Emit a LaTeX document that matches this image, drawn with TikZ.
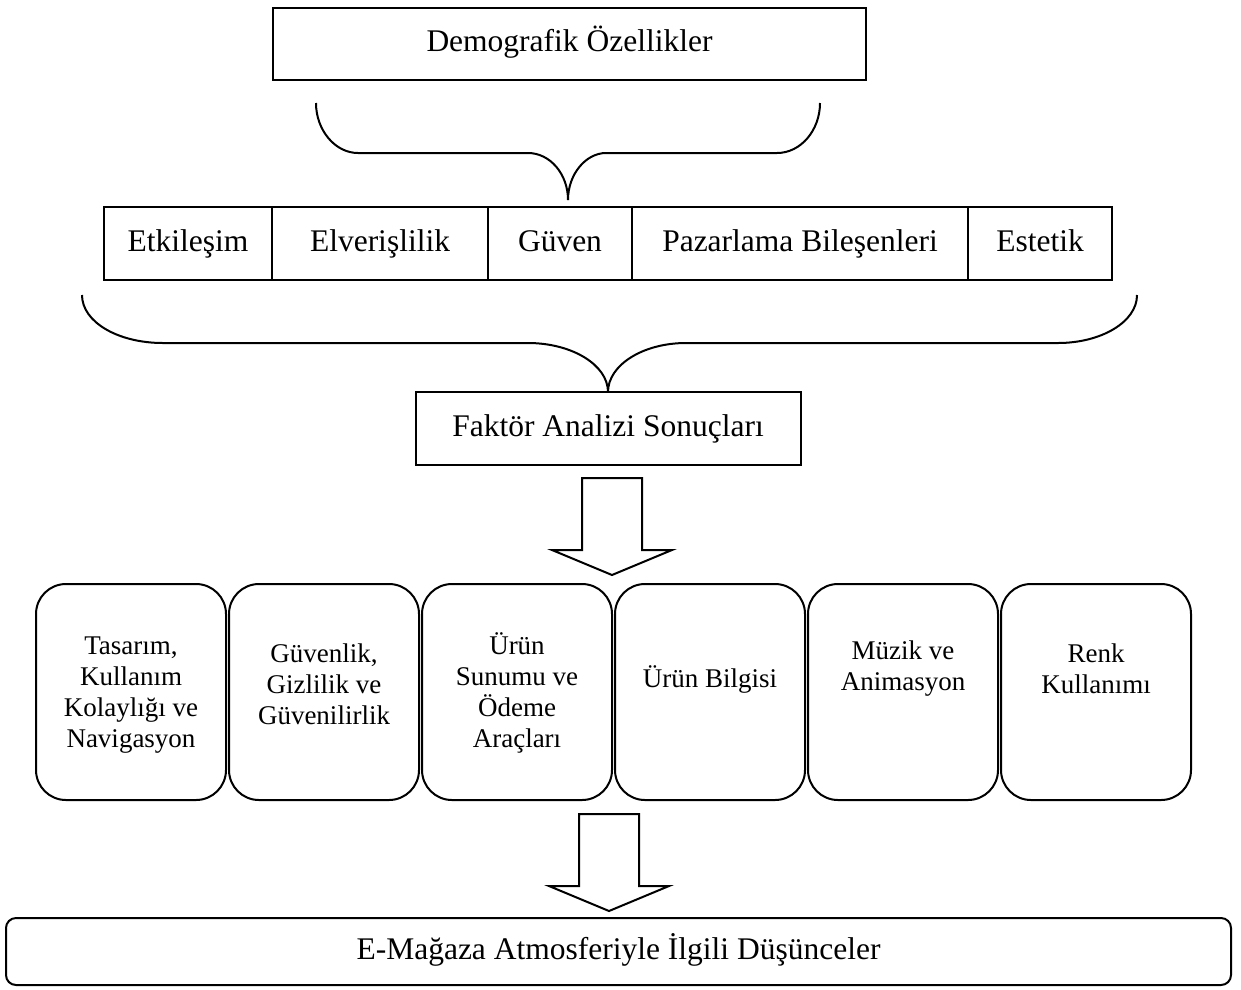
\documentclass[tikz,border=0pt]{standalone}
\usepackage{fontspec}
\setmainfont{Liberation Serif}
\usetikzlibrary{calc}
\usetikzlibrary{positioning}

\begin{document}
\begin{tikzpicture}[x=1pt,y=-1pt,node distance=0pt,outer sep=0pt,inner sep=2pt,line width=2pt]

	\tikzstyle{every node}=[font=\fontsize{31.5}{36}\selectfont]

	\tikzset{field/.style={draw,align=center,shape=rectangle,
		minimum height=73pt,text height=22pt,text depth=7pt}}

	\tikzset{roundfield/.style={draw,shape=rectangle,rounded corners=30pt,
		minimum height=216pt,minimum width=190pt}}

	\tikzset{smalltext/.style={align=center,font=\fontsize{27}{31}\selectfont}}

	\tikzset{blockarrow/.style={draw,line join=miter}}

	\useasboundingbox (0,0) rectangle (1241,989);

	\node (demo) at (569.5,44) [field,minimum width=593pt,minimum height=72pt] {Demografik Özellikler};

	% Factors, one beside another.
	\node (etkilesim) at (188,243.5) [field,minimum width=168pt] {Etkileşim};
	\node (elverislilik) [field,minimum width=216pt,right=of etkilesim] {Elverişlilik};
	\node (guven) [field,minimum width=144pt,right=of elverislilik] {Güven};
	\node (pazarlama) [field,minimum width=336pt,right=of guven] {Pazarlama Bileşenleri};
	\node (estetik) [field,minimum width=144pt,right=of pazarlama] {Estetik};

	\node (faktor) at (608,428.5) [field,minimum width=385pt] {Faktör Analizi Sonuçları};

	% Brace under the demographic box.
	\draw (316,103) .. controls (316,130) and (335,153) .. (358,153) -- (528,153)
		.. controls (550,153) and (568,174) .. (568,200);
	\draw (820,103) .. controls (820,130) and (801,153) .. (777,153) -- (606,153)
		.. controls (586,153) and (568,174) .. (568,200);

	% Brace under the factors.
	\draw (82,295) .. controls (82,322) and (118,343) .. (163,343) -- (528,343)
		.. controls (572,343) and (608,365) .. (608,392);
	\draw (1137,295) .. controls (1137,322) and (1101,343) .. (1058,343) -- (686,343)
		.. controls (643,343) and (608,365) .. (608,392);

	% Results of the factor analysis, one beside another.
	\node (tasarim) at (131,692) [roundfield] {};
	\node (guvenlik) [roundfield,right=3pt of tasarim] {};
	\node (sunum) [roundfield,right=3pt of guvenlik] {};
	\node (bilgi) [roundfield,right=3pt of sunum] {};
	\node (muzik) [roundfield,right=3pt of bilgi] {};
	\node (renk) [roundfield,right=3pt of muzik] {};

	\node (tasarimtext) at ($(tasarim)+(0,3)$) [smalltext] {Tasarım,\\Kullanım\\Kolaylığı ve\\Navigasyon};
	\node (guvenliktext) at ($(guvenlik)+(0,-8)$) [smalltext] {Güvenlik,\\Gizlilik ve\\Güvenilirlik};
	\node (sunumtext) at ($(sunum)+(0,1)$) [smalltext] {Ürün\\Sunumu ve\\Ödeme\\Araçları};
	\node (bilgitext) at ($(bilgi)+(0,-13)$) [smalltext] {Ürün Bilgisi};
	\node (muziktext) at ($(muzik)+(0,-23)$) [smalltext] {Müzik ve\\Animasyon};
	\node (renktext) at ($(renk)+(0,-23)$) [smalltext] {Renk\\Kullanımı};

	\node (emagaza) at (618.5,951.5) [field,minimum width=1225pt,minimum height=67pt,rounded corners=10pt] {E-Mağaza Atmosferiyle İlgili Düşünceler};

	% Block arrows between the levels.
	\coordinate (arrowone) at ($(faktor.south)+(4,13)$);
	\coordinate (arrowtwo) at ($(emagaza.north)+(-9.5,-104)$);
	\foreach \a in {arrowone,arrowtwo}
		\draw [blockarrow] ($(\a)+(-30,0)$) -- ++(0,72) -- ++(-30,0) -- ++(60,25)
			-- ++(60,-25) -- ++(-30,0) -- ++(0,-72) -- cycle;
\end{tikzpicture}
\end{document}
